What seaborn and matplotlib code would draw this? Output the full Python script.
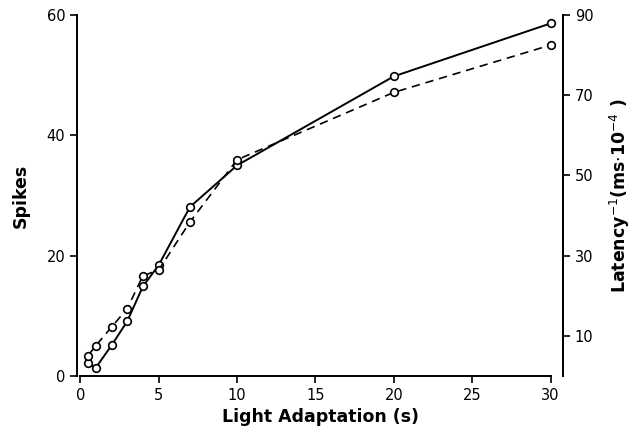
import numpy as np
import pandas as pd
import matplotlib
matplotlib.use("Agg")
import matplotlib.pyplot as plt
import seaborn as sns

# light adaptation time (s)
adapt = [0.5, 1, 2, 3, 4, 5, 7, 10, 20, 30]
# spikes (solid line, left axis)
spikes = [2.1, 1.4, 5.1, 9.1, 14.9, 18.4, 28.1, 35.0, 49.8, 58.6]
# latency^-1 (dashed line, right axis, ms.10^-4)
latency_inv = [5.1, 7.6, 12.2, 16.8, 25.0, 26.4, 38.4, 53.9, 70.7, 82.5]

x_ticks = [0, 5, 10, 15, 20, 25, 30]
left_ticks = [0, 20, 40, 60]
right_ticks = [10, 30, 50, 70, 90]

sns.set_style("ticks")
plt.rcParams['font.family'] = ['DejaVu Sans']
plt.rcParams.update({"text.color": "black", "axes.labelcolor": "black",
                     "xtick.color": "black", "ytick.color": "black",
                     "axes.edgecolor": "black"})

df = pd.DataFrame({"adapt": adapt, "spikes": spikes, "lat": latency_inv})

fig = plt.figure(figsize=(6.37, 4.33), dpi=100)
ax = fig.add_axes([0.121, 0.1316, 0.763, 0.8338])
ax2 = ax.twinx()

sns.lineplot(data=df, x="adapt", y="spikes", ax=ax, color="black", lw=1.4,
             marker="o", markersize=5.5, markerfacecolor="white",
             markeredgecolor="black", markeredgewidth=1.2)
sns.lineplot(data=df, x="adapt", y="lat", ax=ax2, color="black", lw=1.2,
             linestyle=(0, (5, 3.5)), marker="o", markersize=5.5,
             markerfacecolor="white", markeredgecolor="black",
             markeredgewidth=1.2)

ax.set_xlim(-0.2, 30.8)
ax.set_ylim(0, 60)
ax2.set_ylim(0, 90)

ax.set_xticks(x_ticks)
ax.set_yticks(left_ticks)
ax2.set_yticks(right_ticks)

for a in (ax, ax2):
    a.spines["top"].set_visible(False)
    for s in a.spines.values():
        s.set_linewidth(1.4)
        s.set_color("black")
    a.tick_params(width=1.2, length=5, labelsize=10.5, direction="out",
                  colors="black")

ax.spines["bottom"].set_bounds(0, 30)
ax.spines["left"].set_bounds(0, 60)
ax2.spines["left"].set_visible(False)
ax2.spines["bottom"].set_visible(False)
ax2.spines["right"].set_bounds(3, 90)

ax.set_xlabel("Light Adaptation (s)", fontsize=12.5,
              fontweight="semibold", labelpad=4)
ax.set_ylabel("Spikes", fontsize=12.5, fontweight="semibold", labelpad=12)
ax2.set_ylabel(r"Latency$^{-1}$(ms$\cdot$10$^{-4}$ )", fontsize=12.5,
               fontweight="semibold", labelpad=10)

fig.savefig("out.png", dpi=100)
